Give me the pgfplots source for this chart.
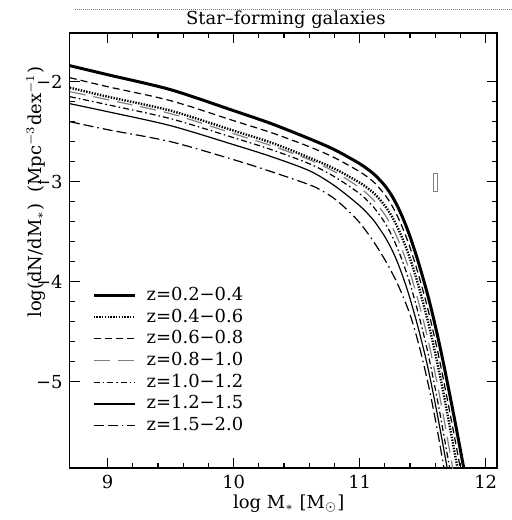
\documentclass[border=0pt]{standalone}
\usepackage{fontspec}
\setmainfont{DejaVu Serif}
\usepackage{pgfplots}
\pgfplotsset{compat=1.18}

\begin{document}
\begin{tikzpicture}[font=\fontsize{9}{10}\selectfont]
\path[use as bounding box] (-34.75bp,-26bp) rectangle (221.25bp,234bp);
\begin{axis}[
  at={(0,0)}, anchor=south west,
  width=213.75bp, height=217.5bp, scale only axis,
  xmin=8.697, xmax=12.09, ymin=-5.863, ymax=-1.513,
  xtick={9,10,11,12}, xticklabels={9,10,11,12},
  ytick={-5,-4,-3,-2}, yticklabels={−5,−4,−3,−2},
  minor x tick num=4, minor y tick num=4,
  tick align=inside, xtick pos=both, ytick pos=both,
  major tick length=5bp, minor tick length=2.5bp,
  axis line style={line width=0.8bp},
  tick style={line width=0.6bp, black},
  title={Star–forming galaxies},
  every axis title/.style={at={(axis description cs:0.506,1.030)}, anchor=center, inner sep=0pt},
  xlabel={log M$_*$ [M$_\odot$]},
  every axis x label/.style={at={(axis description cs:0.513,-0.0828)}, anchor=center},
  ylabel={log(dN/dM$_*$) \ (Mpc$^{-3}$dex$^{-1}$)},
  every axis y label/.style={at={(axis description cs:-0.0784,0.634)}, rotate=90, anchor=center},
  legend image code/.code={\draw[#1] (0bp,0bp) -- (20.8bp,0bp);},
  legend cell align=left,
  legend style={at={(axis description cs:0.052,0.416)}, anchor=north west,
    draw=none, fill=none, inner sep=0pt, row sep=2.85bp,
    nodes={inner sep=0pt, text height=6.5bp, text depth=1.5bp},
    /tikz/every odd column/.append style={column sep=5bp}},
]
% z=0.2-0.4
\addplot[black, line width=1.5bp, smooth] coordinates {
(8.70,-1.84) (9.00,-1.93) (9.50,-2.08) (10.00,-2.29) (10.30,-2.42) (10.60,-2.57)
(10.80,-2.68) (11.00,-2.82) (11.10,-2.91) (11.15,-2.97) (11.20,-3.04) (11.25,-3.13)
(11.30,-3.245) (11.35,-3.385) (11.40,-3.55) (11.46,-3.78) (11.52,-4.04) (11.56,-4.23)
(11.61,-4.495) (11.65,-4.725) (11.69,-4.97) (11.76,-5.42) (11.83,-5.89)};
\addlegendentry{z=0.2−0.4}
% z=0.4-0.6
\addplot[black, line width=1.2bp, dash pattern=on 0.7bp off 0.7bp, smooth] coordinates {
(8.70,-2.06) (9.00,-2.15) (9.50,-2.29) (10.00,-2.49) (10.30,-2.61) (10.60,-2.76)
(10.80,-2.87) (11.00,-3.01) (11.10,-3.10) (11.15,-3.165) (11.20,-3.24) (11.25,-3.335)
(11.30,-3.455) (11.35,-3.60) (11.40,-3.77) (11.46,-4.01) (11.52,-4.29) (11.56,-4.49)
(11.61,-4.775) (11.65,-5.015) (11.69,-5.28) (11.76,-5.75) (11.83,-6.24)};
\addlegendentry{z=0.4−0.6}
% z=0.6-0.8
\addplot[black, line width=0.6bp, dash pattern=on 3.5bp off 2bp, smooth] coordinates {
(8.70,-1.96) (9.00,-2.05) (9.50,-2.19) (10.00,-2.39) (10.30,-2.51) (10.60,-2.65)
(10.80,-2.76) (11.00,-2.90) (11.10,-2.99) (11.15,-3.055) (11.20,-3.13) (11.25,-3.225)
(11.30,-3.345) (11.35,-3.49) (11.40,-3.66) (11.46,-3.90) (11.52,-4.17) (11.56,-4.37)
(11.61,-4.645) (11.65,-4.885) (11.69,-5.14) (11.76,-5.60) (11.83,-6.08)};
\addlegendentry{z=0.6−0.8}
% z=0.8-1.0
\addplot[gray, line width=0.6bp, dash pattern=on 8bp off 4bp, smooth] coordinates {
(8.70,-2.10) (9.00,-2.18) (9.50,-2.32) (10.00,-2.52) (10.30,-2.64) (10.60,-2.78)
(10.80,-2.90) (11.00,-3.06) (11.10,-3.17) (11.15,-3.245) (11.20,-3.33) (11.25,-3.435)
(11.30,-3.565) (11.35,-3.725) (11.40,-3.91) (11.46,-4.17) (11.52,-4.46) (11.56,-4.68)
(11.61,-4.985) (11.65,-5.245) (11.69,-5.52) (11.76,-6.02)};
\addlegendentry{z=0.8−1.0}
% z=1.0-1.2
\addplot[black, line width=0.6bp, dash pattern=on 3bp off 1.5bp on 0.8bp off 1.5bp, smooth] coordinates {
(8.70,-2.15) (9.00,-2.23) (9.50,-2.37) (10.00,-2.56) (10.30,-2.68) (10.60,-2.82)
(10.80,-2.95) (11.00,-3.12) (11.10,-3.24) (11.15,-3.32) (11.20,-3.41) (11.25,-3.525)
(11.30,-3.665) (11.35,-3.83) (11.40,-4.02) (11.46,-4.29) (11.52,-4.59) (11.56,-4.82)
(11.61,-5.135) (11.65,-5.405) (11.69,-5.69) (11.72,-5.90)};
\addlegendentry{z=1.0−1.2}
% z=1.2-1.5
\addplot[black, line width=0.6bp, smooth] coordinates {
(8.70,-2.22) (9.00,-2.30) (9.50,-2.44) (10.00,-2.63) (10.30,-2.75) (10.60,-2.89)
(10.80,-3.04) (11.00,-3.24) (11.10,-3.37) (11.15,-3.455) (11.20,-3.55) (11.25,-3.665)
(11.30,-3.805) (11.35,-3.975) (11.40,-4.17) (11.46,-4.44) (11.52,-4.74) (11.56,-4.97)
(11.61,-5.285) (11.65,-5.555) (11.70,-5.90)};
\addlegendentry{z=1.2−1.5}
% z=1.5-2.0
\addplot[black, line width=0.6bp, dash pattern=on 5bp off 2bp on 5bp off 2bp on 0.8bp off 2bp, smooth] coordinates {
(8.70,-2.40) (9.00,-2.48) (9.50,-2.60) (10.00,-2.78) (10.30,-2.90) (10.60,-3.03)
(10.70,-3.09) (10.80,-3.17) (10.90,-3.28) (11.00,-3.41) (11.10,-3.58) (11.20,-3.78)
(11.30,-4.02) (11.40,-4.33) (11.48,-4.68) (11.55,-5.06) (11.61,-5.44) (11.67,-5.87)
(11.69,-6.00)};
\addlegendentry{z=1.5−2.0}
\draw[gray, line width=0.5bp] (axis cs:11.584,-2.917) rectangle (axis cs:11.62,-3.10);
\end{axis}
\draw[gray, line width=0.8bp, dash pattern=on 0.5bp off 0.5bp] (2.75bp,229.3bp) -- (225bp,229.3bp);
\end{tikzpicture}
\end{document}
